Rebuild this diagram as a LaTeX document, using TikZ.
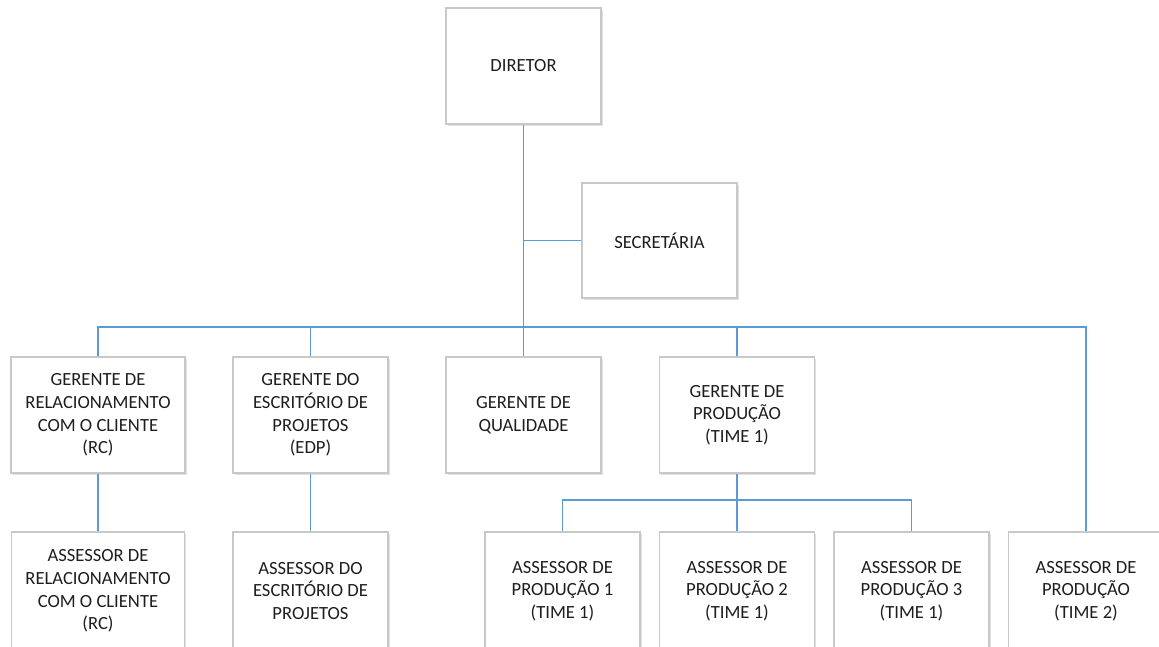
\documentclass[tikz,border=0pt]{standalone}
\usepackage{fontspec}
\setmainfont{Carlito}
\usetikzlibrary{shadows}
\definecolor{linkblue}{HTML}{5B9BD5}
\definecolor{boxgray}{HTML}{C8C8C8}
\definecolor{txt}{HTML}{1E1E1E}
\begin{document}
\begin{tikzpicture}[x=1pt,y=-1pt,
  orgbox/.style={draw=boxgray, line width=1.1pt, fill=white, rectangle,
    minimum width=155pt, minimum height=116pt, inner sep=0pt, align=center,
    text=txt, font=\fontsize{18.6}{22.7}\selectfont,
    drop shadow={opacity=0.12, shadow xshift=1.5pt, shadow yshift=-2pt, fill=black}},
  link/.style={draw=linkblue, line width=1.6pt}]
\useasboundingbox (0,0) rectangle (1159,647);
\fill[white] (0,0) rectangle (1159,647);
\begin{scope}
\clip (0,0) rectangle (1159,647);
% nodes
\node[orgbox] (dir) at (523.5,66) {DIRETOR};
\node[orgbox, minimum height=115pt] (sec) at (659.5,240.5) {SECRETÁRIA};
\node[orgbox, minimum width=174pt] (rc) at (98,415) {GERENTE DE\\RELACIONAMENTO\\COM O CLIENTE\\(RC)};
\node[orgbox] (edp) at (310.5,415) {GERENTE DO\\ESCRITÓRIO DE\\PROJETOS\\(EDP)};
\node[orgbox] (qual) at (523.5,415) {GERENTE DE\\QUALIDADE};
\node[orgbox] (prod) at (737,415) {GERENTE DE\\PRODUÇÃO\\(TIME 1)};
\node[orgbox, minimum width=173pt, minimum height=118pt] (arc) at (98,591) {ASSESSOR DE\\RELACIONAMENTO\\COM O CLIENTE\\(RC)};
\node[orgbox, minimum height=118pt] (aedp) at (310.5,591) {ASSESSOR DO\\ESCRITÓRIO DE\\PROJETOS};
\node[orgbox, minimum height=118pt] (a1) at (562.5,591) {ASSESSOR DE\\PRODUÇÃO 1\\(TIME 1)};
\node[orgbox, minimum height=118pt] (a2) at (737,591) {ASSESSOR DE\\PRODUÇÃO 2\\(TIME 1)};
\node[orgbox, minimum height=118pt] (a3) at (911.5,591) {ASSESSOR DE\\PRODUÇÃO 3\\(TIME 1)};
\node[orgbox, minimum height=118pt] (at2) at (1086,591) {ASSESSOR DE\\PRODUÇÃO\\(TIME 2)};
% bus points
\coordinate (bus) at (523.5,327);
\coordinate (pbus) at (737,500);
% connectors
\draw[link] (dir.south) -- (qual.north);
\draw[link] (dir.south |- sec.west) -- (sec.west);
\draw[link] (bus) -| (rc.north);
\draw[link] (bus) -| (edp.north);
\draw[link] (bus) -| (prod.north);
\draw[link] (bus) -| (at2.north);
\draw[link] (rc.south) -- (arc.north);
\draw[link] (edp.south) -- (aedp.north);
\draw[link] (prod.south) -- (a2.north);
\draw[link] (pbus) -| (a1.north);
\draw[link] (pbus) -| (a3.north);
\end{scope}
\end{tikzpicture}
\end{document}
